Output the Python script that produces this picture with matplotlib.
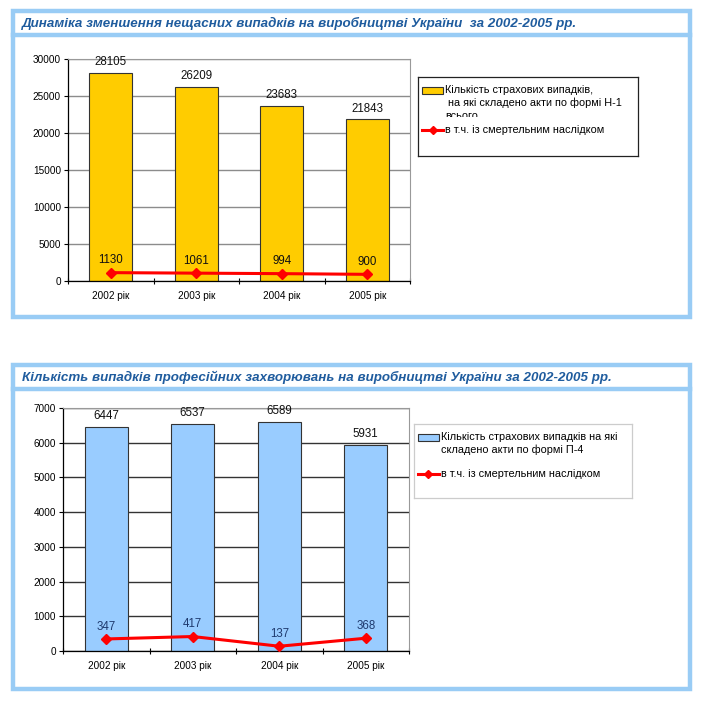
import numpy as np
import matplotlib
matplotlib.use('Agg')
import matplotlib.pyplot as plt
from matplotlib import font_manager
from matplotlib.patches import Rectangle
from matplotlib.transforms import Bbox, TransformedBbox

# data
years = ['2002 рік', '2003 рік', '2004 рік', '2005 рік']
accidents = [28105, 26209, 23683, 21843]
accidents_fatal = [1130, 1061, 994, 900]
diseases = [6447, 6537, 6589, 5931]
diseases_fatal = [347, 417, 137, 368]

title_top = 'Динаміка зменшення нещасних випадків на виробництві України  за 2002-2005 рр.'
title_bottom = 'Кількість випадків професійних захворювань на виробництві України за 2002-2005 рр.'
legend_top = ['Кількість страхових випадків,', ' на які складено акти по формі Н-1', 'всього']
legend_bottom = ['Кількість страхових випадків на які', 'складено акти по формі П-4']
legend_fatal = 'в т.ч. із смертельним наслідком'

W = H = 707
plt.rcParams['font.family'] = ['Liberation Sans', 'DejaVu Sans']

try:
    font_manager.findfont('Liberation Sans Narrow', fallback_to_default=False)
    title_font = ['Liberation Sans Narrow', 'DejaVu Sans']
    title_size = 10.5
except ValueError:
    title_font = ['Liberation Sans', 'DejaVu Sans']
    title_size = 9.6

FRAME = '#99CCF5'
TITLE_C = '#1F5C9E'

fig = plt.figure(figsize=(W / 100, H / 100), dpi=100)


def px_axes(x0, y0, x1, y1):
    return fig.add_axes([x0 / W, 1 - y1 / H, (x1 - x0) / W, (y1 - y0) / H])


def frame(x0, y0, x1, y1, ysep, title, ty):
    fig.add_artist(Rectangle((x0 / W, 1 - y1 / H), (x1 - x0) / W, (y1 - y0) / H,
                             transform=fig.transFigure, fill=False,
                             edgecolor=FRAME, linewidth=3.2))
    fig.add_artist(plt.Line2D([x0 / W, x1 / W], [1 - ysep / H, 1 - ysep / H],
                              transform=fig.transFigure, color=FRAME, linewidth=3.2))
    fig.text(22 / W, 1 - ty / H, title, family=title_font, fontsize=title_size,
             fontweight='bold', fontstyle='italic', color=TITLE_C, va='center')


def chart(box, values, fatal, bar_color, grid_color, ymax, ystep, fatal_label_c):
    ax = px_axes(*box)
    x = np.arange(len(years))
    ax.bar(x, values, width=0.5, color=bar_color, edgecolor='#333333', linewidth=0.8, zorder=2)
    ax.plot(x, fatal, color='#FF0000', lw=2.2, marker='D', ms=5, zorder=3)
    for xi, v in zip(x, values):
        ax.annotate(str(v), (xi, v), xytext=(0, 3.5), textcoords='offset points',
                    ha='center', va='bottom', fontsize=8.3, color='#111111')
    for xi, v in zip(x, fatal):
        ax.annotate(str(v), (xi, v), xytext=(0, 4.5), textcoords='offset points',
                    ha='center', va='bottom', fontsize=8.3, color=fatal_label_c)
    ax.set_xlim(-0.5, 3.5)
    ax.set_ylim(0, ymax)
    ax.set_yticks(np.arange(0, ymax + 1, ystep))
    ax.set_xticks(x)
    ax.set_xticklabels(years)
    ax.set_xticks(np.arange(-0.5, 4, 1), minor=True)
    ax.tick_params(axis='x', which='major', length=0, pad=7, labelsize=7.2)
    ax.tick_params(axis='x', which='minor', length=5, direction='inout', width=0.8)
    ax.tick_params(axis='y', length=3, width=0.8, pad=2, labelsize=7.2)
    ax.yaxis.grid(True, color=grid_color, lw=1)
    ax.set_axisbelow(True)
    for s in ['top', 'right']:
        ax.spines[s].set_color('#999999')
        ax.spines[s].set_linewidth(0.8)
    for s in ['left', 'bottom']:
        ax.spines[s].set_color('black')
        ax.spines[s].set_linewidth(0.9)
    return ax


def legend(box, bar_color, lines, line_gap, line_y, edge, clip_y=None):
    x0, y0, x1, y1 = box
    lg = px_axes(x0, y0, x1, y1)
    lg.set_xlim(x0, x1)
    lg.set_ylim(y1, y0)
    lg.set_xticks([])
    lg.set_yticks([])
    for s in lg.spines.values():
        s.set_color(edge)
        s.set_linewidth(0.9)
    ty = y0 + 13
    lg.add_patch(Rectangle((x0 + 4, ty - 3.5), 21, 7, facecolor=bar_color,
                           edgecolor='#333333', linewidth=0.8))
    clip = None
    if clip_y is not None:
        clip = TransformedBbox(Bbox.from_extents(x0, y0, x1, clip_y), lg.transData)
    for i, t in enumerate(lines):
        txt = lg.text(x0 + 27, ty + i * line_gap, t, fontsize=7.8, va='center', ha='left')
        if clip is not None:
            txt.set_clip_box(clip)
            txt.set_clip_on(True)
    lg.plot([x0 + 4, x0 + 25], [line_y, line_y], color='#FF0000', lw=2.2)
    lg.plot([x0 + 14.5], [line_y], color='#FF0000', marker='D', ms=4)
    lg.text(x0 + 27, line_y, legend_fatal, fontsize=7.8, va='center', ha='left')


# top panel
frame(13, 11, 690, 317, 35, title_top, 23)
chart((68, 59, 410, 281), accidents, accidents_fatal, '#FFCC00', '#8C8C8C', 30000, 5000, '#111111')
legend((418, 77, 638, 156), '#FFCC00', legend_top, 13, 130, '#222222', clip_y=117)

# bottom panel
frame(13, 365, 690, 689, 389, title_bottom, 377)
chart((63, 408, 409, 651), diseases, diseases_fatal, '#99CCFF', '#333333', 7000, 1000, '#1F3A6E')
legend((414, 424, 632, 498), '#99CCFF', legend_bottom, 13, 474, '#CCCCCC')

fig.savefig('out.png', dpi=100)
